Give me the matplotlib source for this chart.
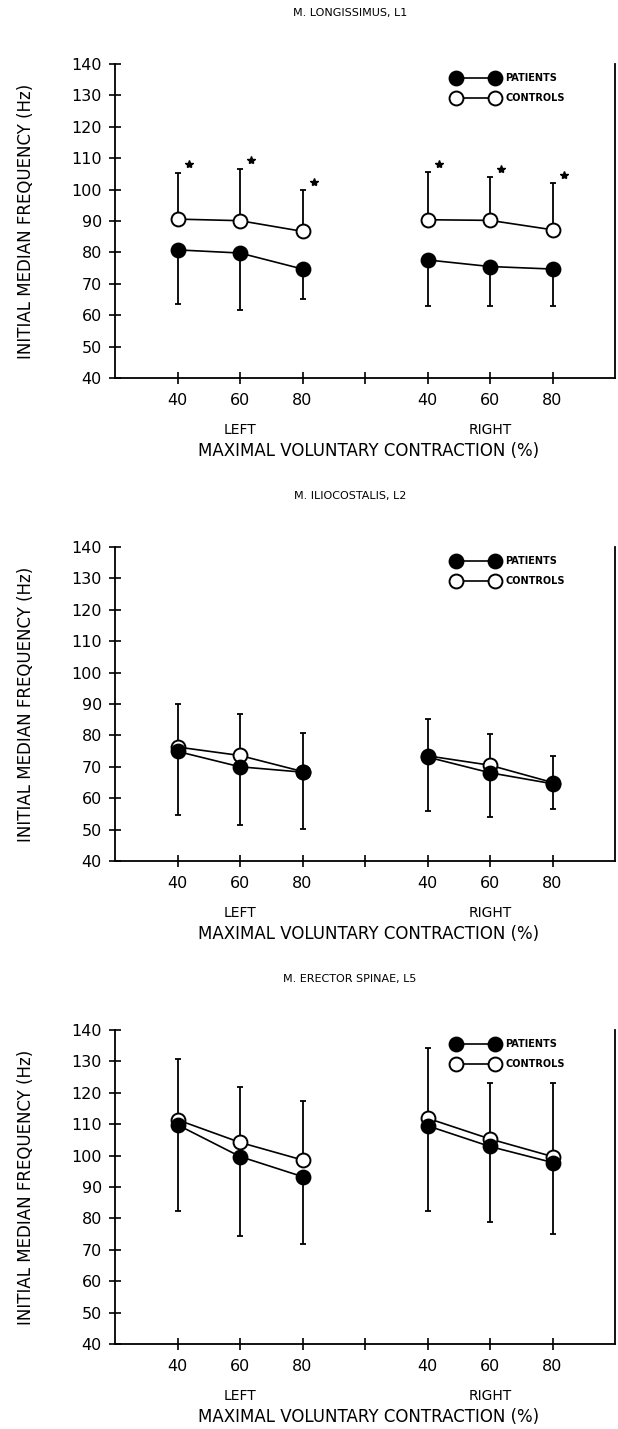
import numpy as np
import matplotlib
matplotlib.use("Agg")
import matplotlib.pyplot as plt
import matplotlib.transforms as mtransforms

# x positions: left side 40/60/80, gap tick, right side 40/60/80
tick_pos = [0, 1, 2, 3, 4, 5, 6]
tick_labels = ["40", "60", "80", "", "40", "60", "80"]
left_pos = [0, 1, 2]
right_pos = [4, 5, 6]

titles = ["M. LONGISSIMUS, L1", "M. ILIOCOSTALIS, L2", "M. ERECTOR SPINAE, L5"]

# means (L40, L60, L80, R40, R60, R80) and SD (controls up, patients down)
ctrl_l1 = [90.6, 90.1, 86.7, 90.4, 90.2, 87.2]
ctrl_l1_sd = [14.8, 16.6, 13.1, 15.1, 13.9, 15.0]
pat_l1 = [80.8, 79.8, 74.7, 77.6, 75.5, 74.7]
pat_l1_sd = [17.2, 18.3, 9.6, 14.8, 12.7, 11.9]

ctrl_l2 = [76.3, 73.6, 68.5, 73.5, 70.5, 65.0]
ctrl_l2_sd = [13.8, 13.1, 12.2, 11.7, 9.8, 8.4]
pat_l2 = [74.9, 70.0, 68.3, 73.1, 68.1, 64.6]
pat_l2_sd = [20.4, 18.6, 18.0, 17.3, 14.1, 8.0]

ctrl_l5 = [111.4, 104.2, 98.6, 111.9, 105.3, 99.7]
ctrl_l5_sd = [19.5, 17.5, 18.9, 22.5, 17.9, 23.3]
pat_l5 = [109.8, 99.7, 93.3, 109.5, 102.9, 97.8]
pat_l5_sd = [27.6, 25.2, 21.4, 27.3, 23.9, 22.8]

# significance stars (panel 1 only)
sig_l1 = [True] * 6
sig_l2 = [False] * 6
sig_l5 = [False] * 6

panels = [
    (ctrl_l1, ctrl_l1_sd, pat_l1, pat_l1_sd, sig_l1),
    (ctrl_l2, ctrl_l2_sd, pat_l2, pat_l2_sd, sig_l2),
    (ctrl_l5, ctrl_l5_sd, pat_l5, pat_l5_sd, sig_l5),
]

W, H = 618, 1429
fig = plt.figure(figsize=(W / 100, H / 100), dpi=100)

ax_left = 115 / W
ax_width = 500 / W
ax_height = 314 / H
ax_bottoms = [1 - 378 / H, 1 - 861 / H, 1 - 1344 / H]

MS = 10
LW = 1.2

for k, (ctrl, ctrl_sd, pat, pat_sd, sig) in enumerate(panels):
    ax = fig.add_axes([ax_left, ax_bottoms[k], ax_width, ax_height])
    xs = left_pos + right_pos
    ctrl = np.array(ctrl)
    pat = np.array(pat)
    ctrl_sd = np.array(ctrl_sd)
    pat_sd = np.array(pat_sd)

    # error bars: controls upward, patients downward
    ax.errorbar(xs, ctrl, yerr=[np.zeros(6), ctrl_sd], fmt="none", ecolor="black",
                elinewidth=1.3, capsize=2.2, capthick=1.3, zorder=1)
    ax.errorbar(xs, pat, yerr=[pat_sd, np.zeros(6)], fmt="none", ecolor="black",
                elinewidth=1.3, capsize=2.2, capthick=1.3, zorder=1)

    for side in (slice(0, 3), slice(3, 6)):
        sx = xs[side]
        ax.plot(sx, ctrl[side], color="black", lw=LW, marker="o", ms=MS,
                mfc="white", mec="black", mew=1.4, zorder=3,
                label="CONTROLS" if side.start == 0 else None)
        ax.plot(sx, pat[side], color="black", lw=LW, marker="o", ms=MS,
                mfc="black", mec="black", mew=1.4, zorder=4,
                label="PATIENTS" if side.start == 0 else None)

    # stars
    for x, c, s, flag in zip(xs, ctrl, ctrl_sd, sig):
        if flag:
            ax.plot(x + 0.18, c + s + 2.6, marker="*", ms=6, color="black",
                    ls="none", zorder=5)

    ax.set_xlim(-1, 7)
    ax.set_ylim(40, 140)
    ax.set_xticks(tick_pos)
    ax.set_xticklabels(tick_labels)
    ax.set_yticks(np.arange(40, 141, 10))
    ax.tick_params(axis="both", direction="inout", length=9, width=1.2,
                   labelsize=11.5, pad=5)
    ax.tick_params(axis="x", pad=6)
    for sp in ("left", "bottom", "right"):
        ax.spines[sp].set_linewidth(1.3)
    ax.spines["top"].set_visible(False)

    ax.set_ylabel("INITIAL MEDIAN FREQUENCY (Hz)", fontsize=12)
    ax.yaxis.set_label_coords(-0.159, 0.5)
    ax.set_xlabel("MAXIMAL VOLUNTARY CONTRACTION (%)", fontsize=12)
    ax.xaxis.set_label_coords(0.507, -0.204)

    trans = mtransforms.blended_transform_factory(ax.transData, ax.transAxes)
    ax.text(1, -0.166, "LEFT", transform=trans, ha="center", va="center", fontsize=10)
    ax.text(5, -0.166, "RIGHT", transform=trans, ha="center", va="center", fontsize=10)

    ax.text(0.47, 1.163, titles[k], transform=ax.transAxes, ha="center",
            va="center", fontsize=8)

    handles, labels = ax.get_legend_handles_labels()
    order = [labels.index("PATIENTS"), labels.index("CONTROLS")]
    leg = ax.legend([handles[i] for i in order], [labels[i] for i in order],
                    loc="upper left", bbox_to_anchor=(0.676, 0.97),
                    frameon=False, numpoints=2, handlelength=4.6,
                    handletextpad=0.8, labelspacing=1.0, borderpad=0,
                    borderaxespad=0, prop={"size": 7, "weight": "bold"})
    for h in leg.get_lines():
        h.set_markersize(MS)

fig.savefig("out.png", dpi=100)
